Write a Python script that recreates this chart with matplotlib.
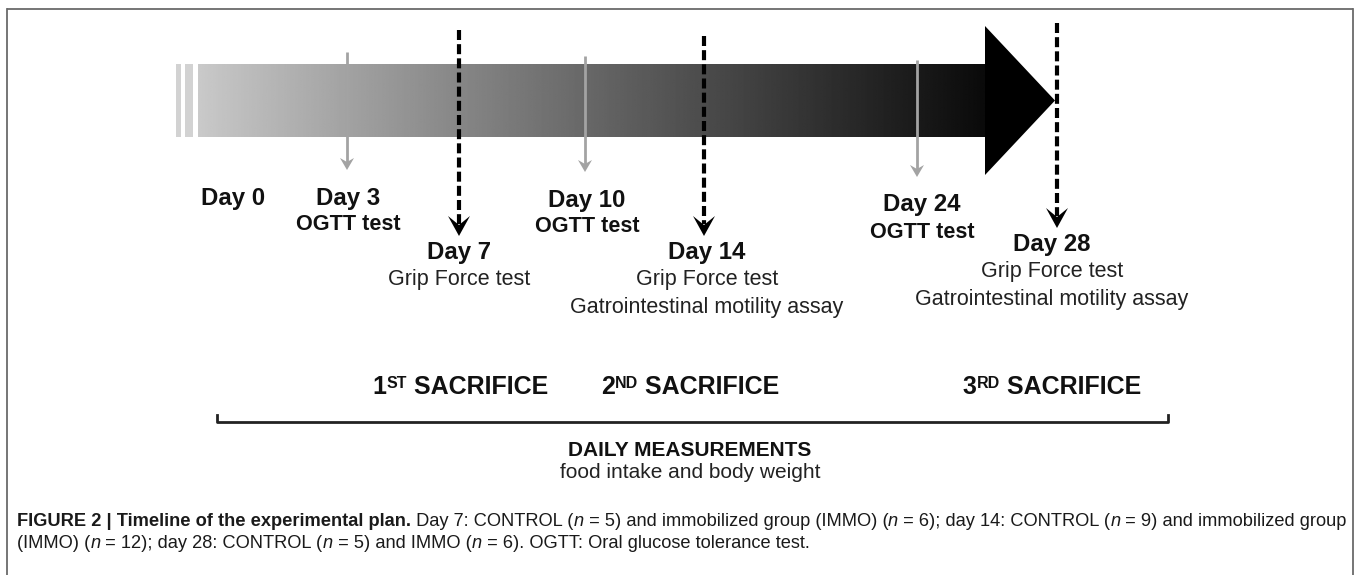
import matplotlib
matplotlib.use('Agg')
import matplotlib.pyplot as plt
from matplotlib.patches import Polygon
from matplotlib import font_manager as fm
import numpy as np

# ---------------- data ----------------
day_labels = ['Day 0', 'Day 3', 'Day 7', 'Day 10', 'Day 14', 'Day 24', 'Day 28']
day_notes = [[], ['OGTT test'], ['Grip Force test'], ['OGTT test'],
             ['Grip Force test', 'Gatrointestinal motility assay'],
             ['OGTT test'],
             ['Grip Force test', 'Gatrointestinal motility assay']]
event_kind = ['start', 'ogtt', 'sacrifice', 'ogtt', 'sacrifice', 'ogtt', 'sacrifice']
sacrifice_num = ['1', '2', '3']
sacrifice_suffix = ['ST', 'ND', 'RD']
sacrifice_word = 'SACRIFICE'
bracket_title = 'DAILY MEASUREMENTS'
bracket_sub = 'food intake and body weight'
caption_line1 = [('FIGURE 2 | Timeline of the experimental plan.', 'bold', 'normal'),
                 (' Day 7: CONTROL (', 'normal', 'normal'), ('n', 'normal', 'italic'),
                 (' = 5) and immobilized group (IMMO) (', 'normal', 'normal'), ('n', 'normal', 'italic'),
                 (' = 6); day 14: CONTROL (', 'normal', 'normal'), ('n', 'normal', 'italic'),
                 (' = 9) and immobilized group', 'normal', 'normal')]
caption_line2 = [('(IMMO) (', 'normal', 'normal'), ('n', 'normal', 'italic'),
                 (' = 12); day 28: CONTROL (', 'normal', 'normal'), ('n', 'normal', 'italic'),
                 (' = 5) and IMMO (', 'normal', 'normal'), ('n', 'normal', 'italic'),
                 (' = 6). OGTT: Oral glucose tolerance test.', 'normal', 'normal')]

# ---------------- layout ----------------
W, H = 1362, 575
event_x = [233, 347, 459, 585, 704, 917, 1057]
label_x = [233, 348, 459, 587, 707, 922, 1052]
label_y = [198, 198, 253, 200, 253, 205, 245]
arrow_top = [None, 52, 30, 56, 36, 60, 23]
sacrifice_x = [460, 690, 1052]

FONT = 'Liberation Sans'


def has_font(name):
    try:
        fm.findfont(fm.FontProperties(family=name), fallback_to_default=False)
        return True
    except Exception:
        return False


CAP_FONT = 'Liberation Sans Narrow' if has_font('Liberation Sans Narrow') else FONT

fig = plt.figure(figsize=(W / 100, H / 100), dpi=100)
ax = fig.add_axes([0, 0, 1, 1])
ax.axis('off')
renderer = fig.canvas.get_renderer()

# ---- frame ----
fc = '#6a6a6a'
ax.plot([7, 1353], [9, 9], color=fc, lw=1.3, solid_capstyle='butt')
ax.plot([7, 7], [9, H], color=fc, lw=1.3)
ax.plot([1353, 1353], [9, H], color=fc, lw=1.3)

# ---- timeline arrow ----
bar_l, bar_r, bar_t, bar_b = 198, 986, 64, 137
xs = np.linspace(0, 1, 500)
vals = 0.79 - 0.75 * xs ** 0.95
img = np.tile(vals, (2, 1))
ax.imshow(img, cmap='gray', vmin=0, vmax=1, extent=[bar_l, bar_r, bar_b, bar_t],
          aspect='auto', interpolation='bilinear', zorder=1)
ax.add_patch(Polygon([(985, 26), (1055, 100.5), (985, 175)], closed=True,
                     facecolor='black', edgecolor='none', zorder=1))
for (x0, x1) in [(176, 181), (185, 193)]:
    ax.fill_between([x0, x1], bar_t, bar_b, color='#d2d2d2', lw=0, zorder=1)


def head(x, tip, w, h, notch, color, z=3):
    ax.add_patch(Polygon([(x - w / 2, tip - h), (x, tip - h + notch), (x + w / 2, tip - h), (x, tip)],
                         closed=True, facecolor=color, edgecolor='none', zorder=z))


for i, kind in enumerate(event_kind):
    x = event_x[i]
    if kind == 'ogtt':
        tip = label_y[i] - 28
        ax.plot([x, x], [arrow_top[i], tip - 5], color='#a3a3a3', lw=2.0, zorder=2,
                solid_capstyle='butt')
        head(x, tip, 14, 12, 4, '#a3a3a3')
    elif kind == 'sacrifice':
        tip = label_y[i] - 17
        ax.plot([x, x], [arrow_top[i], tip - 12], color='black', lw=3.0, zorder=2,
                dashes=[2.4, 1.0], solid_capstyle='butt', dash_capstyle='butt')
        head(x, tip, 22, 20, 9, 'black')

# ---- labels ----
for i, lab in enumerate(day_labels):
    ax.text(label_x[i], label_y[i], lab, family=FONT, weight='bold', size=17.3,
            ha='center', va='center', color='#111111', zorder=4)
    for j, note in enumerate(day_notes[i]):
        bold = event_kind[i] == 'ogtt'
        ax.text(label_x[i], label_y[i] + 27 * (j + 1), note, family=FONT,
                weight='bold' if bold else 'normal', size=15.6 if bold else 15.5,
                ha='center', va='center', color='#111111' if bold else '#222222', zorder=4)


def text_w(s, **kw):
    t = ax.text(0, 0, s + '|', **kw)
    w1 = t.get_window_extent(renderer).width
    t.remove()
    t = ax.text(0, 0, '|', **kw)
    w2 = t.get_window_extent(renderer).width
    t.remove()
    return w1 - w2


def draw_runs(runs, x, y, ha='left', color='#222222'):
    widths = [text_w(s, **kw) for s, kw, dy in runs]
    total = sum(widths)
    cx = x - total / 2 if ha == 'center' else x
    for (s, kw, dy), w in zip(runs, widths):
        ax.text(cx, y - dy, s, va='baseline', ha='left', color=color, zorder=4, **kw)
        cx += w
    return total


ax.set_xlim(0, W)
ax.set_ylim(H, 0)

# sacrifice labels
for k in range(3):
    big = dict(family=FONT, weight='bold', size=18)
    small = dict(family=FONT, weight='bold', size=11.5)
    draw_runs([(sacrifice_num[k], big, 0), (sacrifice_suffix[k], small, 6.5),
               (' ' + sacrifice_word, big, 0)], sacrifice_x[k], 385 + 9, ha='center',
              color='#111111')

# bracket
ax.plot([217, 217, 1168, 1168], [415, 422, 422, 415], color='#222222', lw=2.0,
        solid_joinstyle='round', zorder=3)
ax.text(690, 450, bracket_title, family=FONT, weight='bold', size=15, ha='center',
        va='center', color='#111111')
ax.text(690, 473, bracket_sub, family=FONT, size=15, ha='center', va='center',
        color='#222222')


# caption
def cap_runs(line, size):
    return [(s, dict(family=CAP_FONT, weight=w, style=st, size=size), 0) for s, w, st in line]


base = 10.0
w_base = sum(text_w(s, **kw) for s, kw, dy in cap_runs(caption_line1, base))
cap_size = base * (1345 - 17) / w_base
draw_runs(cap_runs(caption_line1, cap_size), 17, 526, color='#1a1a1a')
draw_runs(cap_runs(caption_line2, cap_size), 17, 548, color='#1a1a1a')

ax.set_xlim(0, W)
ax.set_ylim(H, 0)
fig.savefig('out.png', dpi=100)
